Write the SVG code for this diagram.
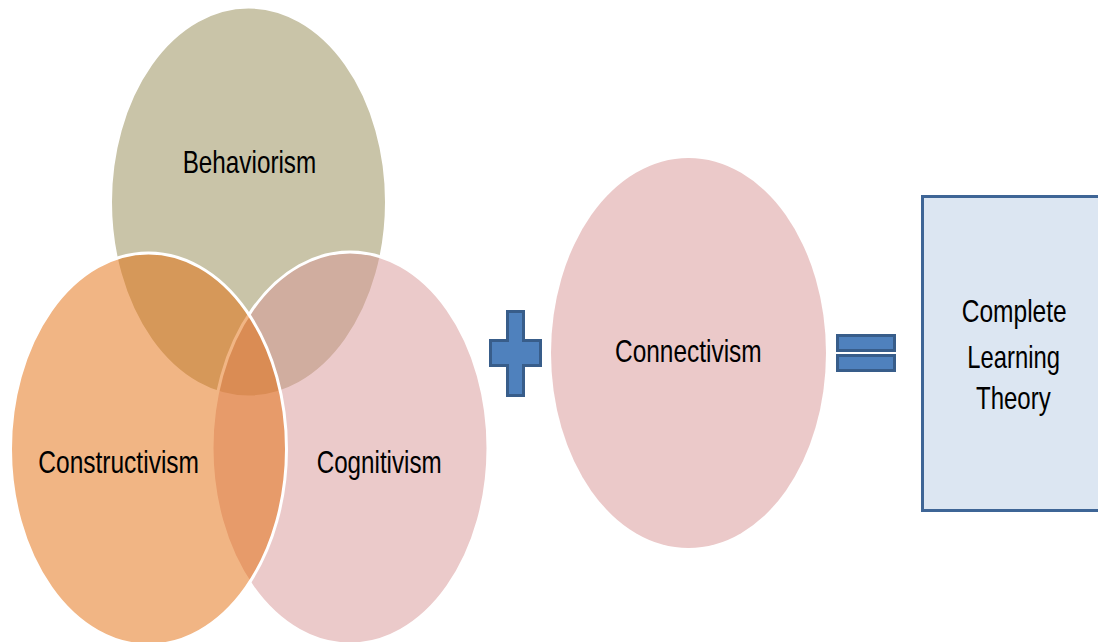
<svg xmlns="http://www.w3.org/2000/svg" width="1098" height="642" viewBox="0 0 1098 642">
<style>
.lbl{font-family:"Liberation Sans",Arial,sans-serif;font-size:32px;fill:#000;}
.circ{stroke:#fff;stroke-width:3;}
.op{fill:#4F81BD;stroke:#385D8A;stroke-width:3;}
</style>
<rect width="1098" height="642" fill="#fff"/>
<g id="behaviorism">
<ellipse class="circ" cx="248.5" cy="202" rx="138" ry="195" fill="#C9C4A8"/>
</g>
<g id="cognitivism">
<ellipse class="circ" cx="350" cy="448" rx="138" ry="196" fill="#D79595" fill-opacity="0.5"/>
</g>
<g id="constructivism">
<ellipse class="circ" cx="148.5" cy="449" rx="138" ry="196" fill="#E36C09" fill-opacity="0.5"/>
</g>
<g id="labels-venn">
<text class="lbl" x="182.7" y="173.3" textLength="133.5" lengthAdjust="spacingAndGlyphs">Behaviorism</text>
<text class="lbl" x="38.3" y="473.3" textLength="160.7" lengthAdjust="spacingAndGlyphs">Constructivism</text>
<text class="lbl" x="316.7" y="473.3" textLength="125" lengthAdjust="spacingAndGlyphs">Cognitivism</text>
</g>
<g id="plus">
<path class="op" d="M507.5 311.5 H523.5 V340.5 H540.5 V365.5 H523.5 V395.5 H507.5 V365.5 H490.5 V340.5 H507.5 Z"/>
</g>
<g id="connectivism">
<ellipse cx="688.5" cy="353" rx="137.5" ry="195" fill="#EBC9C9"/>
<text class="lbl" x="615" y="361.7" textLength="146.7" lengthAdjust="spacingAndGlyphs">Connectivism</text>
</g>
<g id="equals">
<rect class="op" x="837.5" y="335.5" width="57" height="15"/>
<rect class="op" x="837.5" y="355.5" width="57" height="15"/>
</g>
<g id="complete-learning-theory">
<rect x="922.5" y="196.5" width="200" height="314" fill="#DCE6F2" stroke="#3E6596" stroke-width="3"/>
<text class="lbl" x="961.7" y="321.7" textLength="105" lengthAdjust="spacingAndGlyphs">Complete</text>
<text class="lbl" x="967.3" y="367.7" textLength="92.7" lengthAdjust="spacingAndGlyphs">Learning</text>
<text class="lbl" x="976" y="409.3" textLength="74.7" lengthAdjust="spacingAndGlyphs">Theory</text>
</g>
<g id="connectors"></g>
</svg>
